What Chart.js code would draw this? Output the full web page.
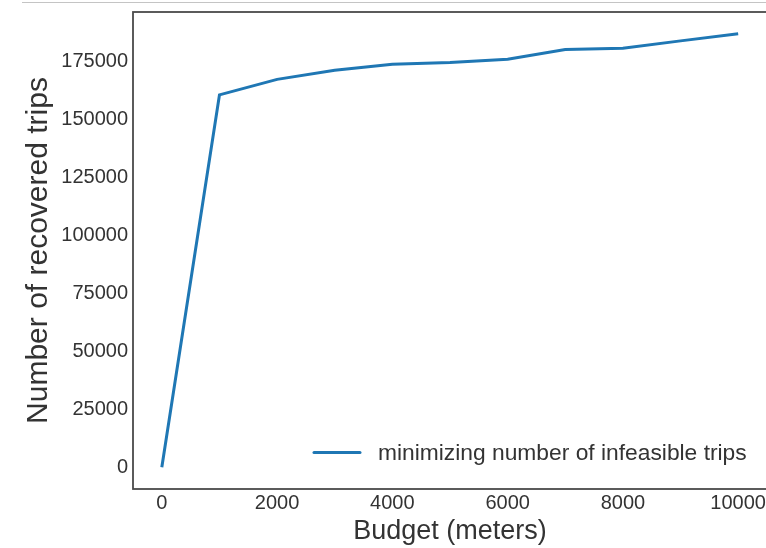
<!DOCTYPE html>
<html>
<head>
<meta charset="utf-8">
<script src="https://cdn.jsdelivr.net/npm/chart.js@4"></script>
<style>
  html, body { margin: 0; padding: 0; background: #fff; overflow: hidden; width: 766px; height: 548px; }
  #wrap { position: absolute; left: 0; top: 0; width: 780px; height: 548px; }
  #topline { position: absolute; left: 22px; top: 2px; width: 744px; height: 1px; background: #c4c4c4; }
</style>
</head>
<body>
<div id="topline"></div>
<div id="wrap"><canvas id="c"></canvas></div>
<script>
// ---- data ----
const budgets = [0, 1000, 2000, 3000, 4000, 5000, 6000, 7000, 8000, 9000, 10000];
const recoveredTrips = [0, 160600, 167300, 171200, 173800, 174600, 176000, 180200, 180700, 183900, 187000];
const seriesLabel = 'minimizing number of infeasible trips';
const xTickValues = [0, 2000, 4000, 6000, 8000, 10000];
const yTickValues = [0, 25000, 50000, 75000, 100000, 125000, 150000, 175000];
const xTitle = 'Budget (meters)';
const yTitle = 'Number of recovered trips';

const FONT = "'Liberation Sans', Arial, sans-serif";
const TEXT = '#333333';
const LINE = '#1f77b4';

const yMax = Math.max(...recoveredTrips), yMin = Math.min(...recoveredTrips);
const yPad = (yMax - yMin) * 0.05;
const xPad = (budgets[budgets.length - 1] - budgets[0]) * 0.05;

const framePlugin = {
  id: 'frame',
  afterDatasetsDraw(chart) {
    const {ctx, chartArea: a} = chart;
    ctx.save();
    ctx.strokeStyle = '#4a4a4a';
    ctx.lineWidth = 1.8;
    ctx.strokeRect(a.left, a.top, a.right - a.left, a.bottom - a.top);
    ctx.restore();
  }
};

const legendPlugin = {
  id: 'innerLegend',
  afterDatasetsDraw(chart) {
    const {ctx} = chart;
    const ds = chart.data.datasets[0];
    const y = 452.5;
    ctx.save();
    ctx.strokeStyle = ds.borderColor;
    ctx.lineWidth = 3;
    ctx.lineCap = 'round';
    ctx.beginPath();
    ctx.moveTo(314, y);
    ctx.lineTo(360, y);
    ctx.stroke();
    ctx.fillStyle = TEXT;
    ctx.font = '22.8px ' + FONT;
    ctx.textBaseline = 'middle';
    ctx.textAlign = 'left';
    ctx.fillText(ds.label, 378, y + 1);
    ctx.restore();
  }
};

new Chart(document.getElementById('c'), {
  type: 'line',
  data: {
    datasets: [{
      label: seriesLabel,
      data: budgets.map((b, i) => ({x: b, y: recoveredTrips[i]})),
      borderColor: LINE,
      backgroundColor: LINE,
      borderWidth: 3,
      pointRadius: 0,
      tension: 0,
      fill: false
    }]
  },
  options: {
    responsive: true,
    maintainAspectRatio: false,
    animation: false,
    layout: { padding: { left: 0, top: 12, right: 13, bottom: 0 } },
    plugins: { legend: { display: false }, tooltip: { enabled: false } },
    scales: {
      x: {
        type: 'linear',
        min: budgets[0] - xPad,
        max: budgets[budgets.length - 1] + xPad,
        afterBuildTicks: s => { s.ticks = xTickValues.map(v => ({value: v})); },
        afterFit: s => { s.height = 59; s.paddingLeft = 0; s.paddingRight = 0; },
        grid: { display: false, drawTicks: false },
        border: { display: false },
        ticks: { color: TEXT, font: { family: FONT, size: 20 }, padding: 2, maxRotation: 0, autoSkip: false,
                 callback: v => String(v) },
        title: { display: true, text: xTitle, color: TEXT, font: { family: FONT, size: 27 },
                 padding: { top: 0, bottom: 0 } }
      },
      y: {
        type: 'linear',
        min: yMin - yPad,
        max: yMax + yPad,
        afterBuildTicks: s => { s.ticks = yTickValues.map(v => ({value: v})); },
        afterFit: s => { s.width = 133; s.paddingTop = 0; s.paddingBottom = 0; },
        grid: { display: false, drawTicks: false },
        border: { display: false },
        ticks: { color: TEXT, font: { family: FONT, size: 20 }, padding: 5, autoSkip: false,
                 callback: v => String(v) },
        title: { display: true, text: yTitle, color: TEXT, font: { family: FONT, size: 30 },
                 padding: { top: 21, bottom: 0 } }
      }
    }
  },
  plugins: [framePlugin, legendPlugin]
});
</script>
</body>
</html>
